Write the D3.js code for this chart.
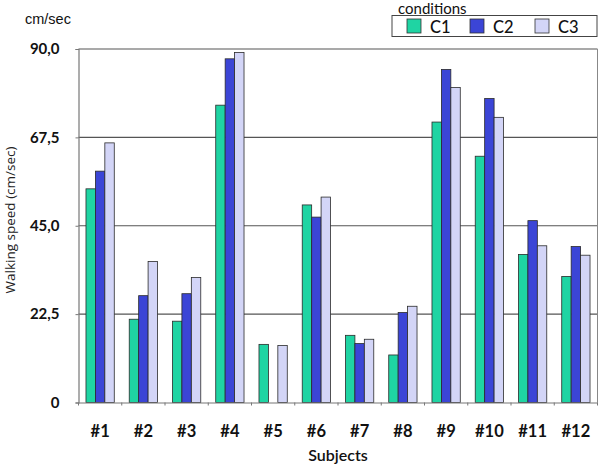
<!DOCTYPE html>
<html><head><meta charset="utf-8">
<script src="https://cdn.jsdelivr.net/npm/d3@7"></script>
<style>body{margin:0;background:#fff}svg{display:block}</style>
</head><body>
<svg id="chart" width="600" height="470"></svg>
<script>
const subjects = ["#1","#2","#3","#4","#5","#6","#7","#8","#9","#10","#11","#12"];
const conditions = ["C1","C2","C3"];
const c1 = [54.4, 21.2, 20.7, 75.7, 14.8, 50.3, 17.1, 12.1, 71.4, 62.7, 37.7, 32.1];
const c2 = [58.9, 27.2, 27.7, 87.5, 0, 47.2, 15.0, 22.9, 84.8, 77.4, 46.3, 39.7];
const c3 = [66.1, 35.9, 31.8, 89.1, 14.5, 52.3, 16.1, 24.5, 80.2, 72.6, 39.9, 37.5];
const yTicks = [0, 22.5, 45, 67.5, 90];
const yTickLabels = ["0", "22,5", "45,0", "67,5", "90,0"];
const colors = ["#1fd4a3", "#3b45d6", "#d3d5f7"];

const series = [c1, c2, c3];
const svg = d3.select("#chart");
const L = 78.5, R = 597.5, T = 49, B = 402.5;

const x = d3.scaleBand().domain(subjects).range([L, R]).paddingInner(0.346).paddingOuter(0.173);
const xOuter = d3.scaleBand().domain(subjects).range([L, R]);
const xs = d3.scaleBand().domain(conditions).range([0, x.bandwidth()]);
const y = d3.scaleLinear().domain([0, 90]).range([B, T]);

// gridlines
svg.append("g").selectAll("line").data(yTicks.filter(d => d > 0)).join("line")
  .attr("x1", L).attr("x2", R).attr("y1", d => y(d)).attr("y2", d => y(d))
  .attr("stroke", "#555").attr("stroke-width", 1.2);
// right border
svg.append("line").attr("x1", R).attr("x2", R).attr("y1", T).attr("y2", B)
  .attr("stroke", "#888").attr("stroke-width", 1);

// bars
const groups = svg.append("g").selectAll("g").data(subjects).join("g")
  .attr("transform", d => `translate(${x(d)},0)`);
groups.selectAll("rect").data((d, i) => conditions.map((c, k) => ({c, v: series[k][i]})))
  .join("rect")
  .filter(d => d.v > 0)
  .attr("x", d => xs(d.c)).attr("width", xs.bandwidth())
  .attr("y", d => y(d.v)).attr("height", d => B - y(d.v))
  .attr("fill", d => colors[conditions.indexOf(d.c)])
  .attr("stroke", "#2a2a2a").attr("stroke-width", 0.8);

// y axis
const yAxis = svg.append("g").attr("transform", `translate(${L},0)`)
  .call(d3.axisLeft(y).tickValues(yTicks).tickSize(3).tickFormat((d, i) => yTickLabels[i]));
yAxis.select(".domain").attr("stroke", "#777").attr("stroke-width", 1.2);
yAxis.selectAll(".tick line").attr("stroke", "#777");
yAxis.selectAll("text").attr("x", -19).attr("font-family", "Lato").attr("font-weight", 700)
  .attr("font-size", 15).attr("fill", "#111");

// x axis
const xAxis = svg.append("g").attr("transform", `translate(0,${B})`)
  .call(d3.axisBottom(xOuter).tickSize(0).tickPadding(23));
xAxis.select(".domain").attr("stroke", "#777").attr("stroke-width", 1.2);
xAxis.selectAll("text").attr("font-family", "Lato").attr("font-weight", 700)
  .attr("font-size", 16.5).attr("fill", "#111");
svg.append("g").selectAll("line").data(subjects.concat(["end"])).join("line")
  .attr("x1", (d, i) => L + i * xOuter.step()).attr("x2", (d, i) => L + i * xOuter.step())
  .attr("y1", B).attr("y2", B + 3).attr("stroke", "#777");

// titles
svg.append("text").attr("x", 338).attr("y", 461).attr("text-anchor", "middle")
  .attr("font-family", "Lato").attr("font-weight", 600).attr("font-size", 16).attr("fill", "#111").text("Subjects");
svg.append("text").attr("transform", "translate(15,220) rotate(-90)").attr("text-anchor", "middle")
  .attr("font-family", "Open Sans").attr("font-size", 13.5).attr("fill", "#222").text("Walking speed (cm/sec)");
svg.append("text").attr("x", 25).attr("y", 24)
  .attr("font-family", "Liberation Sans").attr("font-size", 14.5).attr("fill", "#111").text("cm/sec");

// legend
svg.append("text").attr("x", 398).attr("y", 13.5)
  .attr("font-family", "Lato").attr("font-size", 15).attr("fill", "#111").text("conditions");
svg.append("rect").attr("x", 392).attr("y", 15.5).attr("width", 205).attr("height", 21)
  .attr("fill", "#fff").attr("stroke", "#444").attr("stroke-width", 1);
const lx = [407, 470, 535];
const leg = svg.append("g").selectAll("g").data(conditions).join("g")
  .attr("transform", (d, i) => `translate(${lx[i]},19)`);
leg.append("rect").attr("width", 14).attr("height", 14)
  .attr("fill", (d, i) => colors[i]).attr("stroke", "#333").attr("stroke-width", 0.8);
leg.append("text").attr("x", 23).attr("y", 13.5).attr("font-family", "Lato").attr("font-weight", 500)
  .attr("font-size", 16.5).attr("fill", "#111").text(d => d);
</script>
</body></html>
